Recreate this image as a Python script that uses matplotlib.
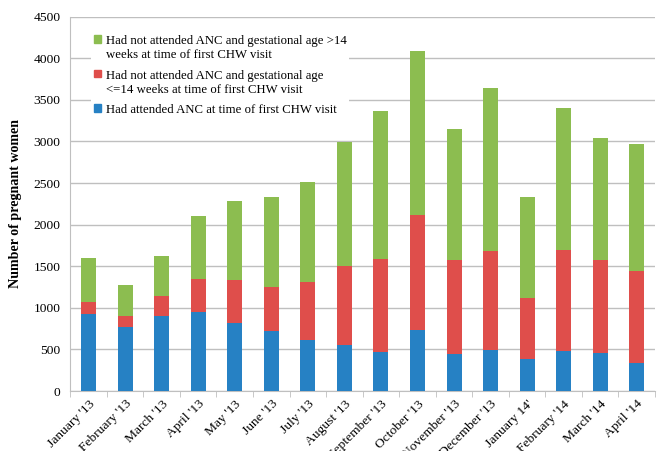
import numpy as np
import matplotlib.pyplot as plt
from matplotlib.patches import Patch
from matplotlib.ticker import MultipleLocator, FixedLocator

# ============================================================
# DATA
# ============================================================

months = [
    "January '13", "February '13", "March '13", "April '13", "May '13",
    "June '13", "July '13", "August '13", "September '13", "October '13",
    "November '13", "December '13", "January 14'", "February '14",
    "March '14", "April '14",
]

# cumulative heights
attended = [928, 768, 900, 948, 816, 720, 608, 552, 472, 728, 444, 492, 388, 480, 456, 340]
upto_14 = [1068, 904, 1144, 1348, 1340, 1248, 1316, 1508, 1592, 2112, 1580, 1688, 1120, 1700, 1580, 1444]
totals = [1600, 1280, 1624, 2108, 2288, 2336, 2516, 2992, 3372, 4092, 3152, 3640, 2328, 3408, 3040, 2972]

attended = np.array(attended)
le14 = np.array(upto_14) - attended
gt14 = np.array(totals) - np.array(upto_14)

labels = [
    "Had not attended ANC and gestational age >14\nweeks at time of first CHW visit",
    "Had not attended ANC and gestational age\n<=14 weeks at time of first CHW visit",
    "Had attended ANC at time of first CHW visit",
]

BLUE = "#2681c4"
RED = "#df4e4b"
GREEN = "#8cbd50"
GRID = "#bfbfbf"

# ============================================================
# PLOT
# ============================================================

plt.rcParams["font.family"] = ["Liberation Serif", "DejaVu Serif"]

fig = plt.figure(figsize=(6.57, 4.51), dpi=100)
ax = fig.add_axes([0.107, 0.133, 0.89, 0.83])

x = np.arange(len(months))
w = 0.41
ax.bar(x, attended, w, color=BLUE, zorder=3)
ax.bar(x, le14, w, bottom=attended, color=RED, zorder=3)
ax.bar(x, gt14, w, bottom=attended + le14, color=GREEN, zorder=3)

ax.set_xlim(-0.5, len(months) - 0.5)
ax.set_ylim(0, 4500)
ax.yaxis.set_major_locator(MultipleLocator(500))
ax.grid(axis="y", color=GRID, linewidth=1, zorder=0)

ax.set_xticks(x)
ax.set_xticklabels(months, rotation=45, ha="right", rotation_mode="anchor", fontsize=9.7)
ax.tick_params(axis="x", which="major", length=0, pad=5)
ax.xaxis.set_minor_locator(FixedLocator(np.arange(-0.5, len(months), 1.0)))
ax.tick_params(axis="x", which="minor", length=4, color=GRID)
ax.tick_params(axis="y", length=0, labelsize=9.7, pad=7)

for s in ["top", "right"]:
    ax.spines[s].set_visible(False)
for s in ["left", "bottom"]:
    ax.spines[s].set_color(GRID)

ax.set_ylabel("Number of pregnant women", fontsize=10.1, fontweight="bold", labelpad=8)

handles = [Patch(color=GREEN), Patch(color=RED), Patch(color=BLUE)]
leg = ax.legend(handles, labels, loc="upper left", bbox_to_anchor=(0.025, 0.975),
                frameon=True, facecolor="white", edgecolor="none", framealpha=1,
                fontsize=9.2, handlelength=0.55, handleheight=0.55,
                handletextpad=0.4, labelspacing=0.7, borderpad=0.2)
leg.set_zorder(5)
# put the square marker next to the first line of each label
for col in leg._legend_handle_box.get_children():
    for row in col.get_children():
        row.align = "top"

fig.savefig("out.png", dpi=100)
